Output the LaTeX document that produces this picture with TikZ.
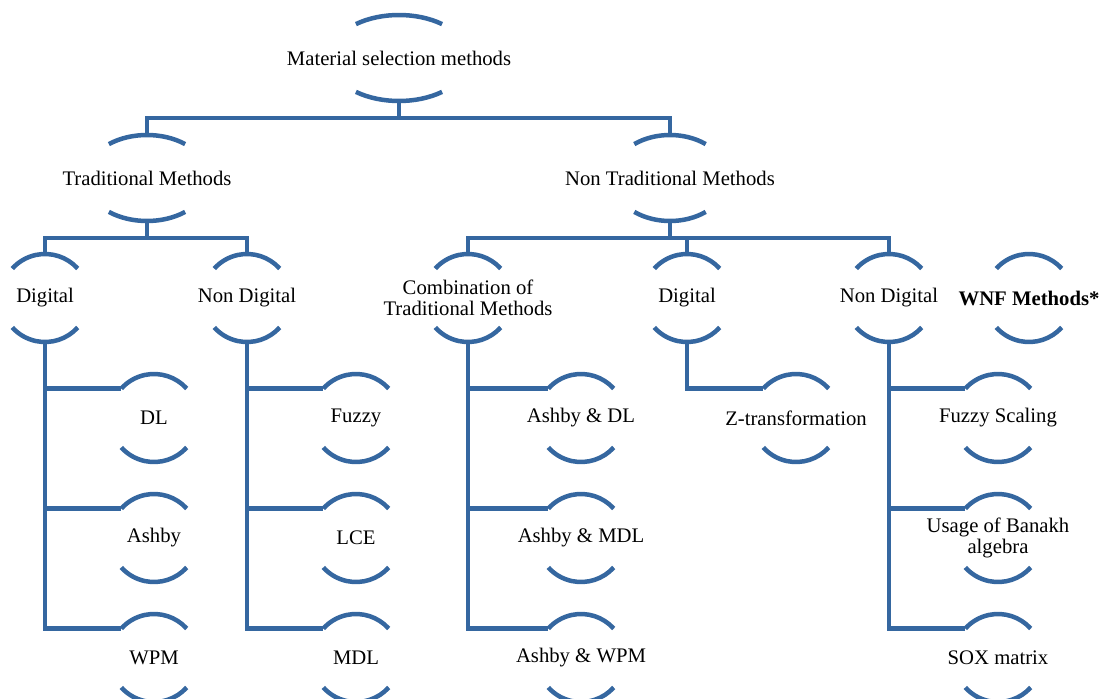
\documentclass[tikz,border=0pt]{standalone}
\usepackage{fontspec}
\setmainfont{Liberation Serif}
\usetikzlibrary{calc}
\definecolor{linkblue}{RGB}{53,103,160}
\tikzstyle{arcline} = [draw=linkblue, line width=4.5pt]
\tikzstyle{link} = [draw=linkblue, line width=4.5pt]
\tikzstyle{lbl} = [font=\fontsize{20.7}{21}\selectfont, align=center, inner sep=0pt]
\newcommand{\roundarcs}[1]{%
\draw[arcline] ([shift={(42:44)}]#1.center) arc[start angle=42, end angle=138, radius=44];
\draw[arcline] ([shift={(-42:44)}]#1.center) arc[start angle=-42, end angle=-138, radius=44];}
\newcommand{\flatarcs}[2]{%
\draw[arcline] ([shift={(52:#2 and 43)}]#1.center) arc[start angle=52, end angle=128, x radius=#2, y radius=43];
\draw[arcline] ([shift={(-52:#2 and 43)}]#1.center) arc[start angle=-52, end angle=-128, x radius=#2, y radius=43];}

\begin{document}
\begin{tikzpicture}[x=1pt, y=1pt]
\useasboundingbox (0,0) rectangle (1104,-699);
% top levels
\node[lbl] (msm) at (399,-58) {Material selection methods};
\node[lbl] (trad) at (147,-178) {Traditional Methods};
\node[lbl] (ntrad) at (670,-178) {Non Traditional Methods};
\node[lbl] (dig1) at (45,-298) {Digital};
\node[lbl] (ndig1) at (247,-298) {Non Digital};
\node[lbl] (comb) at (468,-298) {Combination of\\Traditional Methods};
\node[lbl] (dig2) at (687,-298) {Digital};
\node[lbl] (ndig2) at (889,-298) {Non Digital};
\node[lbl] (wnf) at (1029,-298) {\textbf{WNF Methods*}};
% leaves
\node[lbl] (dl) at (154,-418) {DL};
\node[lbl] (ashby) at (154,-538) {Ashby};
\node[lbl] (wpm) at (154,-658) {WPM};
\node[lbl] (fuzzy) at (356,-418) {Fuzzy};
\node[lbl] (lce) at (356,-538) {LCE};
\node[lbl] (mdl) at (356,-658) {MDL};
\node[lbl] (adl) at (581,-418) {Ashby \& DL};
\node[lbl] (amdl) at (581,-538) {Ashby \& MDL};
\node[lbl] (awpm) at (581,-658) {Ashby \& WPM};
\node[lbl] (ztr) at (796,-418) {Z-transformation};
\node[lbl] (fsc) at (998,-418) {Fuzzy Scaling};
\node[lbl] (uba) at (998,-538) {Usage of Banakh\\algebra};
\node[lbl] (sox) at (998,-658) {SOX matrix};

\flatarcs{msm}{70}
\flatarcs{trad}{62}
\flatarcs{ntrad}{58}
\foreach \n in {dig1,ndig1,comb,dig2,ndig2,wnf,dl,ashby,wpm,fuzzy,lce,mdl,adl,amdl,awpm,ztr,fsc,uba,sox}
  {\roundarcs{\n}}

% connectors
\draw[link] ([yshift=-42]msm.center) -- ++(0,-18) -| ([yshift=42]trad.center);
\draw[link] ([yshift=-42]msm.center) -- ++(0,-18) -| ([yshift=42]ntrad.center);
\draw[link] ([yshift=-42]trad.center) -- ++(0,-18) -| ([yshift=43]dig1.center);
\draw[link] ([yshift=-42]trad.center) -- ++(0,-18) -| ([yshift=43]ndig1.center);
\draw[link] ([yshift=-42]ntrad.center) -- ++(0,-18) -| ([yshift=43]comb.center);
\draw[link] ([yshift=-42]ntrad.center) -- ++(0,-18) -| ([yshift=43]dig2.center);
\draw[link] ([yshift=-42]ntrad.center) -- ++(0,-18) -| ([yshift=43]ndig2.center);
\draw[link] ([yshift=-43]dig1.center) |- ([shift={(138:44)}]dl.center);
\draw[link] ([yshift=-43]dig1.center) |- ([shift={(138:44)}]ashby.center);
\draw[link] ([yshift=-43]dig1.center) |- ([shift={(138:44)}]wpm.center);
\draw[link] ([yshift=-43]ndig1.center) |- ([shift={(138:44)}]fuzzy.center);
\draw[link] ([yshift=-43]ndig1.center) |- ([shift={(138:44)}]lce.center);
\draw[link] ([yshift=-43]ndig1.center) |- ([shift={(138:44)}]mdl.center);
\draw[link] ([yshift=-43]comb.center) |- ([shift={(138:44)}]adl.center);
\draw[link] ([yshift=-43]comb.center) |- ([shift={(138:44)}]amdl.center);
\draw[link] ([yshift=-43]comb.center) |- ([shift={(138:44)}]awpm.center);
\draw[link] ([yshift=-43]dig2.center) |- ([shift={(138:44)}]ztr.center);
\draw[link] ([yshift=-43]ndig2.center) |- ([shift={(138:44)}]fsc.center);
\draw[link] ([yshift=-43]ndig2.center) |- ([shift={(138:44)}]uba.center);
\draw[link] ([yshift=-43]ndig2.center) |- ([shift={(138:44)}]sox.center);
\end{tikzpicture}
\end{document}
